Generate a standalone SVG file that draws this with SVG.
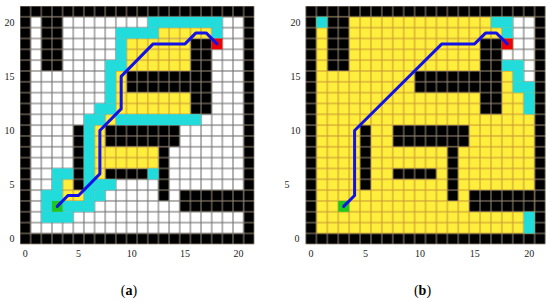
<svg xmlns="http://www.w3.org/2000/svg" width="550" height="303" viewBox="0 0 550 303">
<style>
.t{font-family:"Liberation Serif","Times New Roman",serif;font-size:10px;fill:#222}
.tl{text-anchor:end}
.tb{text-anchor:middle}
.cap{font-family:"Liberation Serif","Times New Roman",serif;font-size:14px;fill:#000;text-anchor:middle}
.c{fill:#22dcdc}
.red{fill:#f00000}
.grn{fill:#1ec81e}
.p{fill:none;stroke:#1212e8;stroke-width:3;stroke-linejoin:round;stroke-linecap:round;vector-effect:non-scaling-stroke}
</style>
<defs>
<pattern id="pk" width="1" height="1" patternUnits="userSpaceOnUse"><rect width="1" height="1" fill="#000" stroke="#8f8270" stroke-width="0.1"/></pattern>
<pattern id="pw" width="1" height="1" patternUnits="userSpaceOnUse"><rect width="1" height="1" fill="#fff" stroke="#707070" stroke-width="0.1"/></pattern>
<pattern id="py" width="1" height="1" patternUnits="userSpaceOnUse"><rect width="1" height="1" fill="#ffef3c" stroke="#c99a35" stroke-width="0.1"/></pattern>
<g id="obs">
<rect x="2" y="1" width="2" height="5"/>
<rect x="10" y="6" width="6" height="2"/>
<rect x="16" y="3" width="2" height="7"/>
<rect x="8" y="11" width="7" height="2"/>
<rect x="5" y="11" width="1" height="6"/>
<rect x="13" y="13" width="1" height="5"/>
<rect x="8" y="15" width="4" height="1"/>
<rect x="15" y="17" width="6" height="2"/>
</g>
</defs>
<rect width="550" height="303" fill="#fff"/>

<g id="grid-a" transform="translate(20 6) scale(10.65 10.83)">
<rect width="22" height="22" fill="url(#pk)"/>
<rect x="1" y="1" width="20" height="20" fill="url(#pw)"/>
<use href="#obs" fill="url(#pk)"/>
<g fill="url(#py)">
<rect x="13" y="2" width="5" height="1"/>
<rect x="10" y="3" width="6" height="3"/>
<rect x="9" y="6" width="1" height="2"/>
<rect x="9" y="8" width="7" height="2"/>
<rect x="8" y="10" width="1" height="1"/>
<rect x="7" y="11" width="1" height="5"/>
<rect x="8" y="13" width="5" height="2"/>
<rect x="4" y="16" width="1" height="1"/>
<rect x="4" y="17" width="2" height="1"/>
</g>
<g class="c">
<rect x="12" y="1" width="7" height="1"/>
<rect x="9" y="2" width="4" height="1"/>
<rect x="18" y="2" width="1" height="1"/>
<rect x="9" y="3" width="1" height="2"/>
<rect x="8" y="5" width="2" height="1"/>
<rect x="8" y="6" width="1" height="3"/>
<rect x="7" y="9" width="2" height="1"/>
<rect x="6" y="10" width="2" height="1"/>
<rect x="9" y="10" width="8" height="1"/>
<rect x="6" y="11" width="1" height="8"/>
<rect x="3" y="15" width="2" height="1"/>
<rect x="12" y="15" width="1" height="1"/>
<rect x="3" y="16" width="1" height="1"/>
<rect x="7" y="16" width="2" height="1"/>
<rect x="2" y="17" width="2" height="1"/>
<rect x="7" y="17" width="1" height="1"/>
<rect x="2" y="18" width="1" height="1"/>
<rect x="4" y="18" width="2" height="1"/>
<rect x="2" y="19" width="3" height="1"/>
</g>
<rect class="red" x="18" y="3" width="1" height="1"/>
<rect class="grn" x="3" y="18" width="1" height="1"/>
<polyline class="p" points="3.5,18.5 4.5,17.5 5.5,17.5 7.5,15.5 7.5,11.5 9.5,9.5 9.5,6.5 12.5,3.5 15.5,3.5 16.5,2.5 17.5,2.5 18.5,3.5"/>
</g>

<g id="grid-b" transform="translate(305.5 6) scale(10.91 10.83)">
<rect width="22" height="22" fill="url(#pk)"/>
<rect x="1" y="1" width="20" height="20" fill="url(#py)"/>
<use href="#obs" fill="url(#pk)"/>
<g fill="url(#pw)">
<rect x="19" y="1" width="2" height="4"/>
<rect x="18" y="4" width="1" height="1"/>
<rect x="20" y="5" width="1" height="2"/>
</g>
<g class="c">
<rect x="1" y="1" width="1" height="1"/>
<rect x="17" y="1" width="2" height="1"/>
<rect x="18" y="2" width="1" height="1"/>
<rect x="18" y="5" width="2" height="1"/>
<rect x="19" y="6" width="1" height="1"/>
<rect x="19" y="7" width="2" height="1"/>
<rect x="20" y="8" width="1" height="2"/>
<rect x="20" y="19" width="1" height="2"/>
</g>
<rect class="red" x="18" y="3" width="1" height="1"/>
<rect class="grn" x="3" y="18" width="1" height="1"/>
<polyline class="p" points="3.5,18.5 4.5,17.5 4.5,11.5 12.5,3.5 15.5,3.5 16.5,2.5 17.5,2.5 18.5,3.5"/>
</g>

<g id="axes-a" class="t">
<text class="tl" x="14.5" y="25.7">20</text>
<text class="tl" x="14.5" y="79.9">15</text>
<text class="tl" x="14.5" y="134">10</text>
<text class="tl" x="14.5" y="188.2">5</text>
<text class="tl" x="14.5" y="242.3">0</text>
<text class="tb" x="25.3" y="257">0</text>
<text class="tb" x="78.6" y="257">5</text>
<text class="tb" x="131.8" y="257">10</text>
<text class="tb" x="185.1" y="257">15</text>
<text class="tb" x="238.4" y="257">20</text>
</g>
<g id="axes-b" class="t">
<text class="tl" x="300.5" y="25.7">20</text>
<text class="tl" x="300.5" y="79.9">15</text>
<text class="tl" x="300.5" y="134">10</text>
<text class="tl" x="289.5" y="188.2">5</text>
<text class="tl" x="299.5" y="242.3">0</text>
<text class="tb" x="311" y="257">0</text>
<text class="tb" x="365.5" y="257">5</text>
<text class="tb" x="420.1" y="257">10</text>
<text class="tb" x="474.7" y="257">15</text>
<text class="tb" x="529.2" y="257">20</text>
</g>
<text class="cap" x="129" y="295">(<tspan font-weight="bold">a</tspan>)</text>
<text class="cap" x="422.5" y="295">(<tspan font-weight="bold">b</tspan>)</text>
</svg>
